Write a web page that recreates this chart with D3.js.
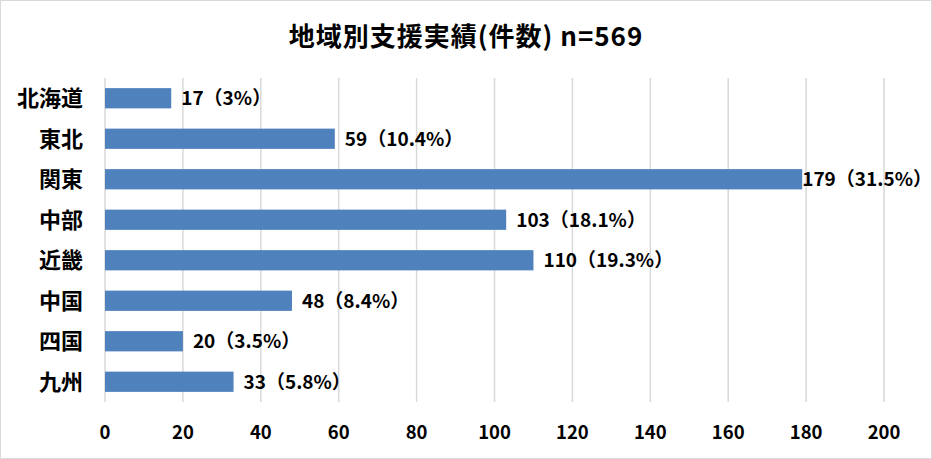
<!DOCTYPE html>
<html><head><meta charset="utf-8">
<script src="https://cdn.jsdelivr.net/npm/d3@7"></script>
<style>body{margin:0;background:#fff}svg{display:block}text{font-family:"Noto Sans CJK JP","Noto Sans",sans-serif}</style>
</head><body><svg id="c" width="932" height="459"></svg>
<script>
const categories = ["北海道","東北","関東","中部","近畿","中国","四国","九州"];
const values = [17,59,179,103,110,48,20,33];
const percents = ["3%","10.4%","31.5%","18.1%","19.3%","8.4%","3.5%","5.8%"];
const xTicks = [0,20,40,60,80,100,120,140,160,180,200];
const title = "地域別支援実績(件数) n=569";

const svg = d3.select("#c");
const W=932,H=459;
svg.append("rect").attr("x",0.5).attr("y",0.5).attr("width",W-1).attr("height",H-1).attr("fill","#fff").attr("stroke","#d9d9d9").attr("stroke-width",1);

const x = d3.scaleLinear().domain([0,200]).range([105,884]);
const y = d3.scaleBand().domain(categories).range([78,402]).paddingInner(0.5).paddingOuter(0.25);

svg.append("g").selectAll("line").data(xTicks).join("line")
  .attr("x1",d=>x(d)).attr("x2",d=>x(d)).attr("y1",78).attr("y2",402)
  .attr("stroke","#d9d9d9").attr("stroke-width",1.5);

svg.append("g").selectAll("rect").data(values).join("rect")
  .attr("x",x(0)).attr("y",(d,i)=>y(categories[i]))
  .attr("width",d=>x(d)-x(0)).attr("height",y.bandwidth()).attr("fill","#4F81BD");

svg.append("g").selectAll("text").data(values).join("text")
  .attr("x",d=>x(d)+(d>150?0:10)).attr("y",(d,i)=>y(categories[i])+y.bandwidth()/2)
  .attr("dy","0.36em").attr("font-size",19).attr("font-weight","bold").attr("fill","#000")
  .text((d,i)=>d+"（"+percents[i]+"）");

svg.append("g").selectAll("text").data(categories).join("text")
  .attr("x",83).attr("y",d=>y(d)+y.bandwidth()/2).attr("dy","0.36em")
  .attr("text-anchor","end").attr("font-size",22).attr("font-weight","bold").attr("fill","#000")
  .text(d=>d);

svg.append("g").selectAll("text").data(xTicks).join("text")
  .attr("x",d=>x(d)).attr("y",432).attr("dy","0.36em").attr("text-anchor","middle")
  .attr("font-size",18.5).attr("font-weight","bold").attr("fill","#000").text(d=>d);

svg.append("text").attr("x",466).attr("y",37).attr("dy","0.36em").attr("text-anchor","middle")
  .attr("font-size",26).attr("letter-spacing",1).attr("font-weight","bold").attr("fill","#000").text(title);
</script></body></html>
